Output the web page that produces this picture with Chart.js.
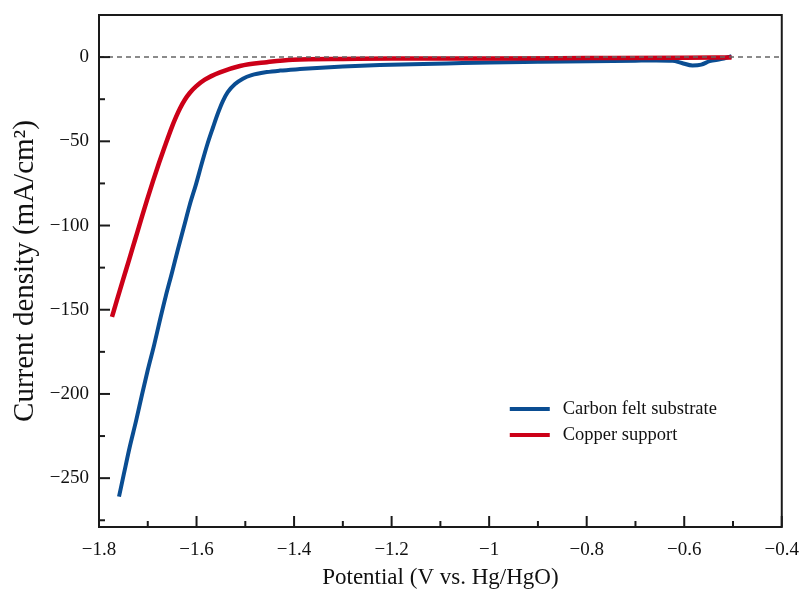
<!DOCTYPE html>
<html>
<head>
<meta charset="utf-8">
<script src="https://cdn.jsdelivr.net/npm/chart.js@4.4.1/dist/chart.umd.min.js"></script>
<style>
  body { margin: 0; background: #fff; }
  #wrap { width: 803px; height: 592px; }
</style>
</head>
<body>
<div id="wrap"><canvas id="myChart"></canvas></div>
<script>
// potencial (V vs Hg/HgO) y densidad de corriente (mA/cm2)
const feltV = [-1.759, -1.749, -1.737, -1.724, -1.712, -1.700, -1.687, -1.675, -1.663, -1.650, -1.638, -1.626, -1.614, -1.601, -1.589, -1.577, -1.566, -1.556, -1.546, -1.536, -1.521, -1.505, -1.487, -1.456, -1.429, -1.388, -1.362, -1.30, -1.224, -1.087, -0.999, -0.90, -0.794, -0.70, -0.657, -0.624, -0.605, -0.583, -0.565, -0.548, -0.525, -0.503];
const feltJ = [-261, -247.5, -231.5, -216, -200.6, -185.8, -171, -156.1, -141.8, -127.6, -113.9, -100.9, -87.8, -75.4, -62.9, -51, -41.5, -33.2, -26.1, -20.8, -16, -12.8, -10.7, -8.9, -8.0, -7.1, -6.6, -5.6, -4.7, -3.8, -3.2, -2.8, -2.4, -2.1, -2.0, -2.2, -3.5, -5.0, -4.5, -2.4, -1.2, 0.5];

const copperV = [-1.7734, -1.7631, -1.7508, -1.7385, -1.7262, -1.7139, -1.7016, -1.6893, -1.6770, -1.6648, -1.650, -1.642, -1.634, -1.624, -1.614, -1.601, -1.583, -1.552, -1.511, -1.456, -1.403, -1.30, -1.20, -1.00, -0.80, -0.60, -0.503];
const copperJ = [-154.3, -144.2, -132.3, -120.5, -108.6, -96.7, -84.9, -73.6, -62.9, -52.8, -41.1, -35.5, -30.5, -25.3, -21.3, -17.4, -13.4, -9.1, -5.3, -3.0, -1.5, -1.1, -0.9, -0.8, -0.6, -0.4, -0.2];

const seriesNames = ["Carbon felt substrate", "Copper support"];
const xTicks = { min: -1.8, max: -0.4, step: 0.1 };
const yTicks = { min: -279, max: 25, step: 25 };

const ctx = document.getElementById("myChart");
const serif = "'Liberation Serif', 'Times New Roman', serif";

function toPoints(xs, ys) {
  return xs.map((v, i) => ({ x: v, y: ys[i] }));
}

function minus(s) {
  return String(s).replace("-", "\u2212");
}

// ticks hacia adentro + marco del area
const innerTicks = {
  id: "innerTicks",
  afterDatasetsDraw(chart) {
    const { ctx, chartArea: a, scales } = chart;
    ctx.save();
    ctx.strokeStyle = "#1a1a1a";
    ctx.lineWidth = 2;
    scales.x.ticks.forEach((t) => {
      const px = scales.x.getPixelForValue(t.value);
      const len = Math.round(t.value * 10) % 2 === 0 ? 11 : 6;
      ctx.beginPath();
      ctx.moveTo(px, a.bottom);
      ctx.lineTo(px, a.bottom - len);
      ctx.stroke();
    });
    scales.y.ticks.forEach((t) => {
      const py = scales.y.getPixelForValue(t.value);
      const len = Math.round(t.value) % 50 === 0 ? 11 : 6;
      ctx.beginPath();
      ctx.moveTo(a.left, py);
      ctx.lineTo(a.left + len, py);
      ctx.stroke();
    });
    ctx.strokeRect(a.left, a.top, a.right - a.left, a.bottom - a.top);
    ctx.restore();
  },
};

// leyenda dentro del grafico, abajo a la derecha
const boxLegend = {
  id: "boxLegend",
  afterDraw(chart) {
    const { ctx, chartArea: a } = chart;
    const sets = chart.data.datasets.filter((d) => d.label);
    ctx.save();
    ctx.font = "18.5px " + serif;
    ctx.textBaseline = "middle";
    sets.forEach((d, i) => {
      const y = a.bottom - 118 + i * 26;
      ctx.strokeStyle = d.borderColor;
      ctx.lineWidth = 4;
      ctx.beginPath();
      ctx.moveTo(a.right - 272, y);
      ctx.lineTo(a.right - 232, y);
      ctx.stroke();
      ctx.fillStyle = "#111";
      ctx.fillText(d.label, a.right - 219, y);
    });
    ctx.restore();
  },
};

const chart = new Chart(ctx, {
  type: "line",
  data: {
    datasets: [
      {
        label: "",
        data: [{ x: xTicks.min, y: 0 }, { x: xTicks.max, y: 0 }],
        borderColor: "#666",
        borderWidth: 1.5,
        borderDash: [5, 4],
        pointRadius: 0,
        order: 0,
      },
      {
        label: seriesNames[0],
        data: toPoints(feltV, feltJ),
        borderColor: "#0a4d92",
        borderWidth: 4,
        pointRadius: 0,
        cubicInterpolationMode: "monotone",
        order: 2,
      },
      {
        label: seriesNames[1],
        data: toPoints(copperV, copperJ),
        borderColor: "#cc0018",
        borderWidth: 4.5,
        pointRadius: 0,
        cubicInterpolationMode: "monotone",
        order: 1,
      },
    ],
  },
  options: {
    responsive: true,
    maintainAspectRatio: false,
    animation: false,
    layout: { padding: { top: 15, right: 14, left: 0, bottom: 0 } },
    plugins: {
      legend: { display: false },
      tooltip: { enabled: false },
    },
    scales: {
      x: {
        type: "linear",
        min: xTicks.min,
        max: xTicks.max,
        grid: { display: false },
        border: { display: false },
        ticks: {
          stepSize: xTicks.step,
          autoSkip: false,
          maxRotation: 0,
          padding: 4,
          color: "#111",
          font: { family: serif, size: 19 },
          callback: (value) => {
            const v = Math.round(value * 10);
            return v % 2 === 0 ? minus(v / 10) : "";
          },
        },
        title: {
          display: true,
          text: "Potential (V vs. Hg/HgO)",
          color: "#111",
          font: { family: serif, size: 23 },
          padding: { top: 0, bottom: 0 },
        },
        afterFit: (scale) => {
          scale.height = 65;
        },
      },
      y: {
        type: "linear",
        min: yTicks.min,
        max: yTicks.max,
        grid: { display: false },
        border: { display: false },
        ticks: {
          stepSize: yTicks.step,
          includeBounds: false,
          autoSkip: false,
          padding: 2,
          color: "#111",
          font: { family: serif, size: 19 },
          callback: (value) => (Math.round(value) % 50 === 0 ? minus(value) : ""),
        },
        title: {
          display: true,
          text: "Current density (mA/cm\u00b2)",
          color: "#111",
          font: { family: serif, size: 29 },
          padding: { top: 8, bottom: 4 },
        },
        afterFit: (scale) => {
          scale.width = 99;
        },
      },
    },
  },
  plugins: [innerTicks, boxLegend],
});
</script>
</body>
</html>
